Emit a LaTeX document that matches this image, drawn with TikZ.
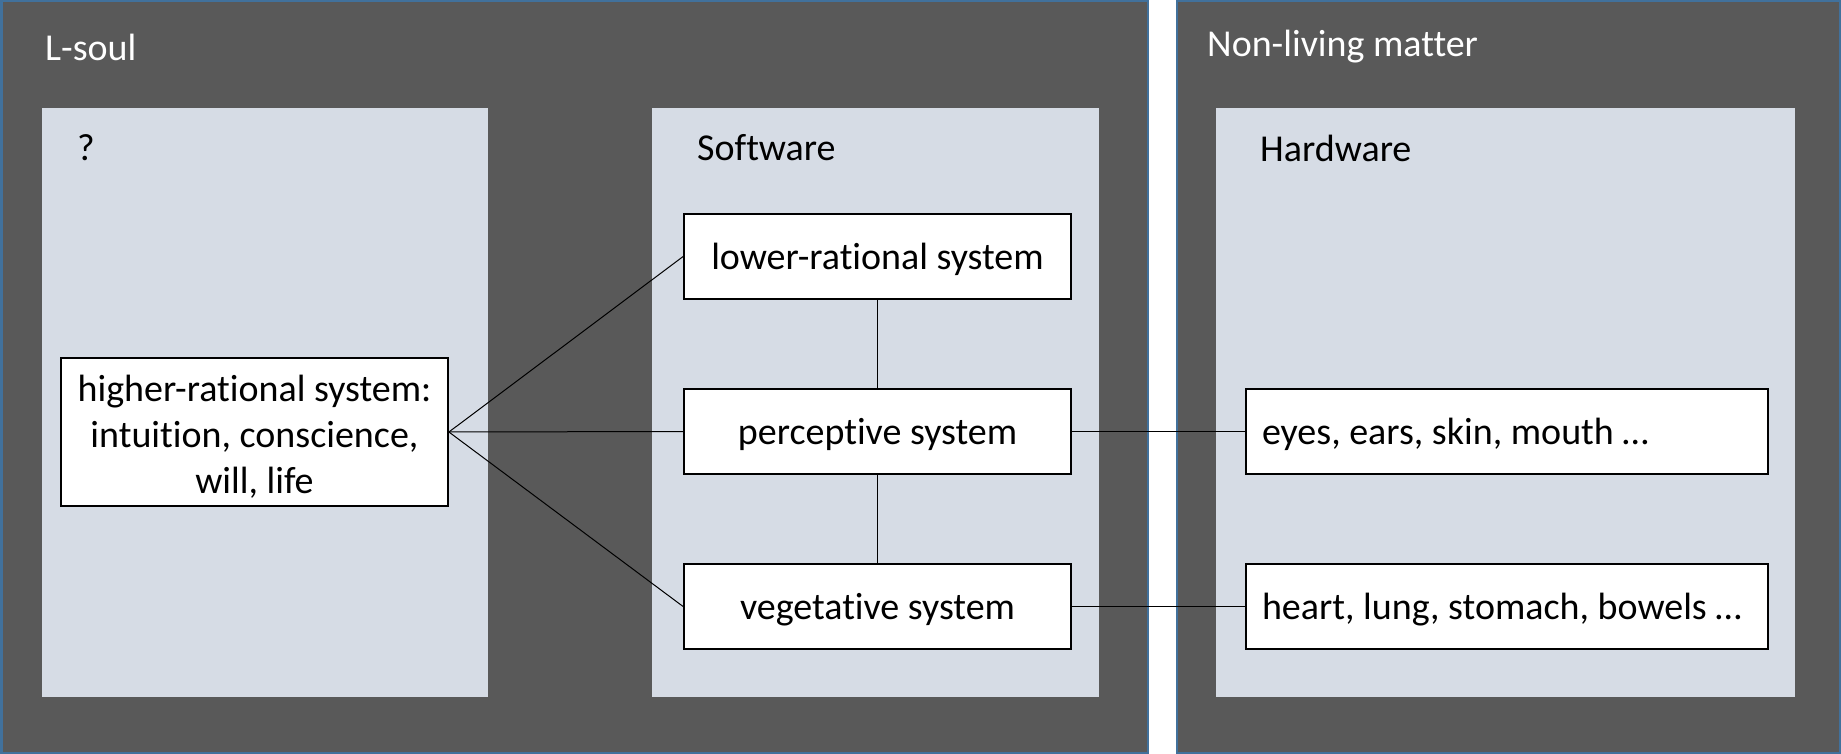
\documentclass[tikz,border=0pt]{standalone}
\usepackage{fontspec}
\setmainfont[Ligatures=NoCommon]{Carlito}
\begin{document}
\frenchspacing
\begin{tikzpicture}[x=1pt,y=-1pt,
  outerpanel/.style={draw=panelblue,line width=2.5pt,fill=darkgray59},
  innerpanel/.style={fill=lightpanel},
  box/.style={draw=black,line width=1.8pt,fill=white,minimum height=85pt,inner sep=0pt,font=\fontsize{38}{46}\selectfont,align=center},
  onebox/.style={box,text height=36pt,text depth=9.5pt},
  title/.style={anchor=west,inner sep=0pt,font=\fontsize{38}{46}\selectfont},
  link/.style={draw=black,line width=1pt}]
\definecolor{panelblue}{HTML}{41719C}
\definecolor{darkgray59}{HTML}{595959}
\definecolor{lightpanel}{HTML}{D6DCE5}
\useasboundingbox (0,0) rectangle (1841,754);
\fill[white] (0,0) rectangle (1841,754);
% outer panels
\draw[outerpanel] (1.25,1.25) rectangle (1148,752.75);
\draw[outerpanel] (1177,1.25) rectangle (1839.75,752.75);
% inner panels
\fill[innerpanel] (42,108) rectangle (488,697);
\fill[innerpanel] (652,108) rectangle (1099,697);
\fill[innerpanel] (1216,108) rectangle (1795,697);
% titles
\node[title,text=white] (tls) at (45,47) {L-soul};
\node[title,text=white] (tnl) at (1207,47) {Non-living matter};
\node[title] (tq) at (77,148) {?};
\node[title] (tsw) at (697,148) {Software};
\node[title] (thw) at (1260,148) {Hardware};
% boxes
\node[box,minimum width=387pt,minimum height=148pt] (high) at (254.5,432) {\rule{0pt}{36pt}higher-rational system:\\intuition, conscience,\\will, life};
\node[onebox,minimum width=387pt] (lower) at (877.5,256.5) {lower-rational system};
\node[onebox,minimum width=387pt] (perc) at (877.5,431.5) {perceptive system};
\node[onebox,minimum width=387pt] (veg) at (877.5,606.5) {vegetative system};
\node[onebox,minimum width=522pt] (eyes) at (1507,431.5) {\makebox[490pt][l]{eyes, ears, skin, mouth \dots}};
\node[onebox,minimum width=522pt] (heart) at (1507,606.5) {\makebox[490pt][l]{heart, lung, stomach, bowels \dots}};
% connectors
\draw[link] (high.east) -- (lower.west);
\draw[link] (high.east) -- (perc.west);
\draw[link] (high.east) -- (veg.west);
\draw[link] (lower.south) -- (perc.north);
\draw[link] (perc.south) -- (veg.north);
\draw[link] (perc.east) -- (eyes.west);
\draw[link] (veg.east) -- (heart.west);
\end{tikzpicture}
\end{document}
